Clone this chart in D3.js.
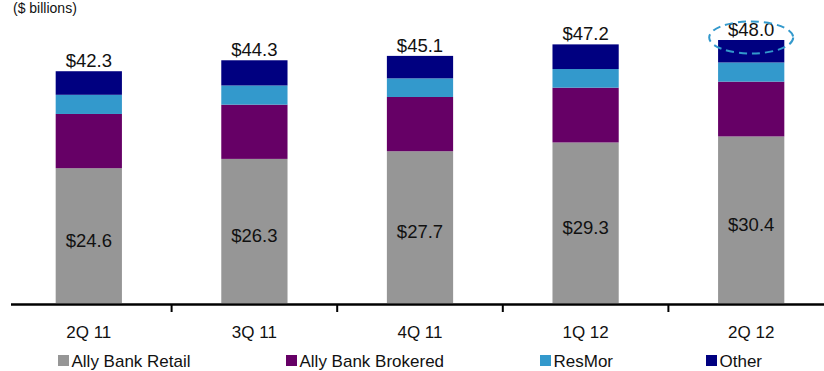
<!DOCTYPE html>
<html>
<head>
<meta charset="utf-8">
<script src="https://cdn.jsdelivr.net/npm/d3@7/dist/d3.min.js"></script>
<style>
  html, body { margin: 0; padding: 0; background: #fff; }
  svg { display: block; font-family: "Liberation Sans", Arial, sans-serif; }
</style>
</head>
<body>
<svg id="chart" width="824" height="371"></svg>
<script>
// Deposit composition by quarter ($ billions)
const quarters = ["2Q 11", "3Q 11", "4Q 11", "1Q 12", "2Q 12"];
const seriesNames = ["Ally Bank Retail", "Ally Bank Brokered", "ResMor", "Other"];
const retail    = [24.6, 26.3, 27.7, 29.3, 30.4];
const brokered  = [9.9, 9.9, 9.9, 10.0, 10.0];
const resmor    = [3.5, 3.5, 3.4, 3.4, 3.5];
const other     = [4.3, 4.6, 4.1, 4.5, 4.1];
const totals    = [42.3, 44.3, 45.1, 47.2, 48.0];
const colors    = ["#969696", "#660066", "#3399CC", "#000080"];

const svg = d3.select("#chart");
const baseY = 303;

const x = d3.scaleBand()
  .domain(quarters)
  .range([6, 834])
  .paddingInner(0.6)
  .paddingOuter(0.3);

const y = d3.scaleLinear()
  .domain([0, 48.0])
  .range([baseY, 40]);

const rows = quarters.map((q, i) => ({
  q, "Ally Bank Retail": retail[i], "Ally Bank Brokered": brokered[i],
  "ResMor": resmor[i], "Other": other[i]
}));
const stacked = d3.stack().keys(seriesNames)(rows);

// stacked segments
svg.append("g").selectAll("g")
  .data(stacked)
  .join("g")
  .attr("fill", (d, i) => colors[i])
  .selectAll("rect")
  .data(d => d)
  .join("rect")
  .attr("x", d => x(d.data.q))
  .attr("width", x.bandwidth())
  .attr("y", d => y(d[1]))
  .attr("height", d => y(d[0]) - y(d[1]));

// retail value labels inside the gray segment
svg.append("g").selectAll("text")
  .data(quarters)
  .join("text")
  .attr("x", d => x(d) + x.bandwidth() / 2)
  .attr("y", (d, i) => (y(0) + y(retail[i])) / 2 + 4.5)
  .attr("dominant-baseline", "central")
  .attr("text-anchor", "middle")
  .attr("font-size", 18.5)
  .attr("fill", "#111")
  .text((d, i) => "$" + retail[i].toFixed(1));

// total labels above each bar
svg.append("g").selectAll("text")
  .data(quarters)
  .join("text")
  .attr("x", d => x(d) + x.bandwidth() / 2)
  .attr("y", (d, i) => y(totals[i]) - 4)
  .attr("text-anchor", "middle")
  .attr("font-size", 18.5)
  .attr("fill", "#111")
  .text((d, i) => "$" + totals[i].toFixed(1));

// highlight ring around the latest total
const last = quarters[quarters.length - 1];
svg.append("ellipse")
  .attr("cx", x(last) + x.bandwidth() / 2)
  .attr("cy", 37.5)
  .attr("rx", 42)
  .attr("ry", 16)
  .attr("fill", "none")
  .attr("stroke", "#3399CC")
  .attr("stroke-width", 2)
  .attr("stroke-dasharray", "8,5");

// category axis
svg.append("line")
  .attr("x1", 11).attr("x2", 824)
  .attr("y1", baseY + 1.5).attr("y2", baseY + 1.5)
  .attr("stroke", "#000").attr("stroke-width", 2.5);

const step = x.step();
svg.append("g").selectAll("line")
  .data(quarters.slice(0, -1))
  .join("line")
  .attr("x1", d => x(d) + x.bandwidth() / 2 + step / 2)
  .attr("x2", d => x(d) + x.bandwidth() / 2 + step / 2)
  .attr("y1", baseY + 2).attr("y2", baseY + 9)
  .attr("stroke", "#000").attr("stroke-width", 2);

svg.append("g").selectAll("text")
  .data(quarters)
  .join("text")
  .attr("x", d => x(d) + x.bandwidth() / 2)
  .attr("y", 337.5)
  .attr("text-anchor", "middle")
  .attr("font-size", 17)
  .attr("fill", "#111")
  .text(d => d);

// legend
const legendX = [58, 286, 540, 706];
const legend = svg.append("g").selectAll("g")
  .data(seriesNames)
  .join("g")
  .attr("transform", (d, i) => `translate(${legendX[i]},355)`);
legend.append("rect")
  .attr("width", 11).attr("height", 11)
  .attr("fill", (d, i) => colors[i]);
legend.append("text")
  .attr("x", 13.5).attr("y", 11.5)
  .attr("font-size", 17)
  .attr("fill", "#111")
  .text(d => d);

// unit note
svg.append("text")
  .attr("x", 13).attr("y", 13)
  .attr("font-size", 14)
  .attr("fill", "#111")
  .text("($ billions)");
</script>
</body>
</html>
